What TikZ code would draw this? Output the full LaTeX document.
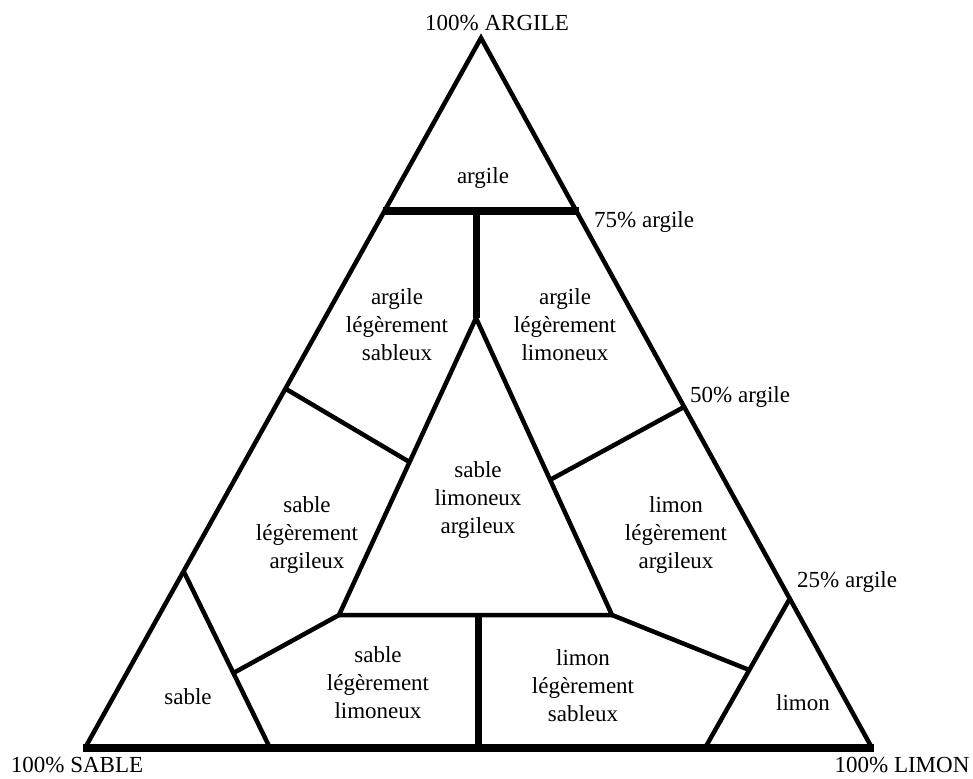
\documentclass[tikz,border=0pt]{standalone}
\usepackage{fontspec}
\setmainfont{Liberation Serif}
\usetikzlibrary{calc}
\begin{document}
\begin{tikzpicture}[x=1pt,y=-1pt,
  thin line/.style={line width=4.5pt,line join=miter},
  thick line/.style={line width=7.5pt},
  lbl/.style={font=\fontsize{23}{28}\selectfont,align=center,inner sep=0pt},
  pct/.style={font=\fontsize{23}{28}\selectfont,anchor=west,inner sep=0pt}]
\useasboundingbox (0,0) rectangle (973,778);
% outer corners
\coordinate (A) at (481,38);
\coordinate (S) at (85,748);
\coordinate (L) at (872,748);
% levels on the sides
\coordinate (a75L) at (383,211);
\coordinate (a75R) at (579,211);
\coordinate (a50L) at (286,389);
\coordinate (a50R) at (684,407);
\coordinate (a25L) at (184,572);
\coordinate (a25R) at (789,600);
% central triangle
\coordinate (cT) at (476,318);
\coordinate (cBL) at (339,615);
\coordinate (cBR) at (612,615);
\coordinate (v75) at (476,211);
\coordinate (vB) at (478,615);
\coordinate (vBot) at (478,748);
\coordinate (cL50) at ($(cT)!0.485!(cBL)$);
\coordinate (cR50) at ($(cT)!0.545!(cBR)$);
% small corner triangles
\coordinate (sB) at (270,748);
\coordinate (lB) at (705,748);
\coordinate (sC) at ($(a25L)!0.574!(sB)$);
\coordinate (lC) at ($(a25R)!0.473!(lB)$);

% outer triangle
\draw[thin line] (S) -- (A) -- (L);
\draw[thick line] ([xshift=-2pt]S) -- ([xshift=2pt]L);
% 75% line and vertical
\draw[thick line] (a75L) -- (a75R);
\draw[line width=7pt] (v75) -- (cT);
% central triangle
\draw[thin line] (cBL) -- (cT) -- (cBR) -- cycle;
% 50% lines
\draw[thin line] (a50L) -- (cL50);
\draw[thin line] (a50R) -- (cR50);
% small triangles
\draw[thin line] (a25L) -- (sB);
\draw[thin line] (a25R) -- (lB);
\draw[thin line] (sC) -- (cBL);
\draw[thin line] (lC) -- (cBR);
\draw[line width=7pt] (vB) -- (vBot);

% labels
\node[lbl] (t1) at (497,23) {100\% ARGILE};
\node[lbl] (t2) at (77,765) {100\% SABLE};
\node[lbl] (t3) at (902,765) {100\% LIMON};
\node[pct] (p75) at (594,222) {75\% argile};
\node[pct] (p50) at (690,397) {50\% argile};
\node[pct] (p25) at (797,582) {25\% argile};

\node[lbl] (r1) at (483,178) {argile};
\node[lbl] (r2) at (397,325) {argile\\légèrement\\sableux};
\node[lbl] (r3) at (565,325) {argile\\légèrement\\limoneux};
\node[lbl] (r4) at (307,535) {sable\\légèrement\\argileux};
\node[lbl] (r5) at (478,500) {sable\\limoneux\\argileux};
\node[lbl] (r6) at (676,535) {limon\\légèrement\\argileux};
\node[lbl] (r7) at (188,697) {sable};
\node[lbl] (r8) at (378,683) {sable\\légèrement\\limoneux};
\node[lbl] (r9) at (583,686) {limon\\légèrement\\sableux};
\node[lbl] (r10) at (803,703) {limon};
\end{tikzpicture}
\end{document}
